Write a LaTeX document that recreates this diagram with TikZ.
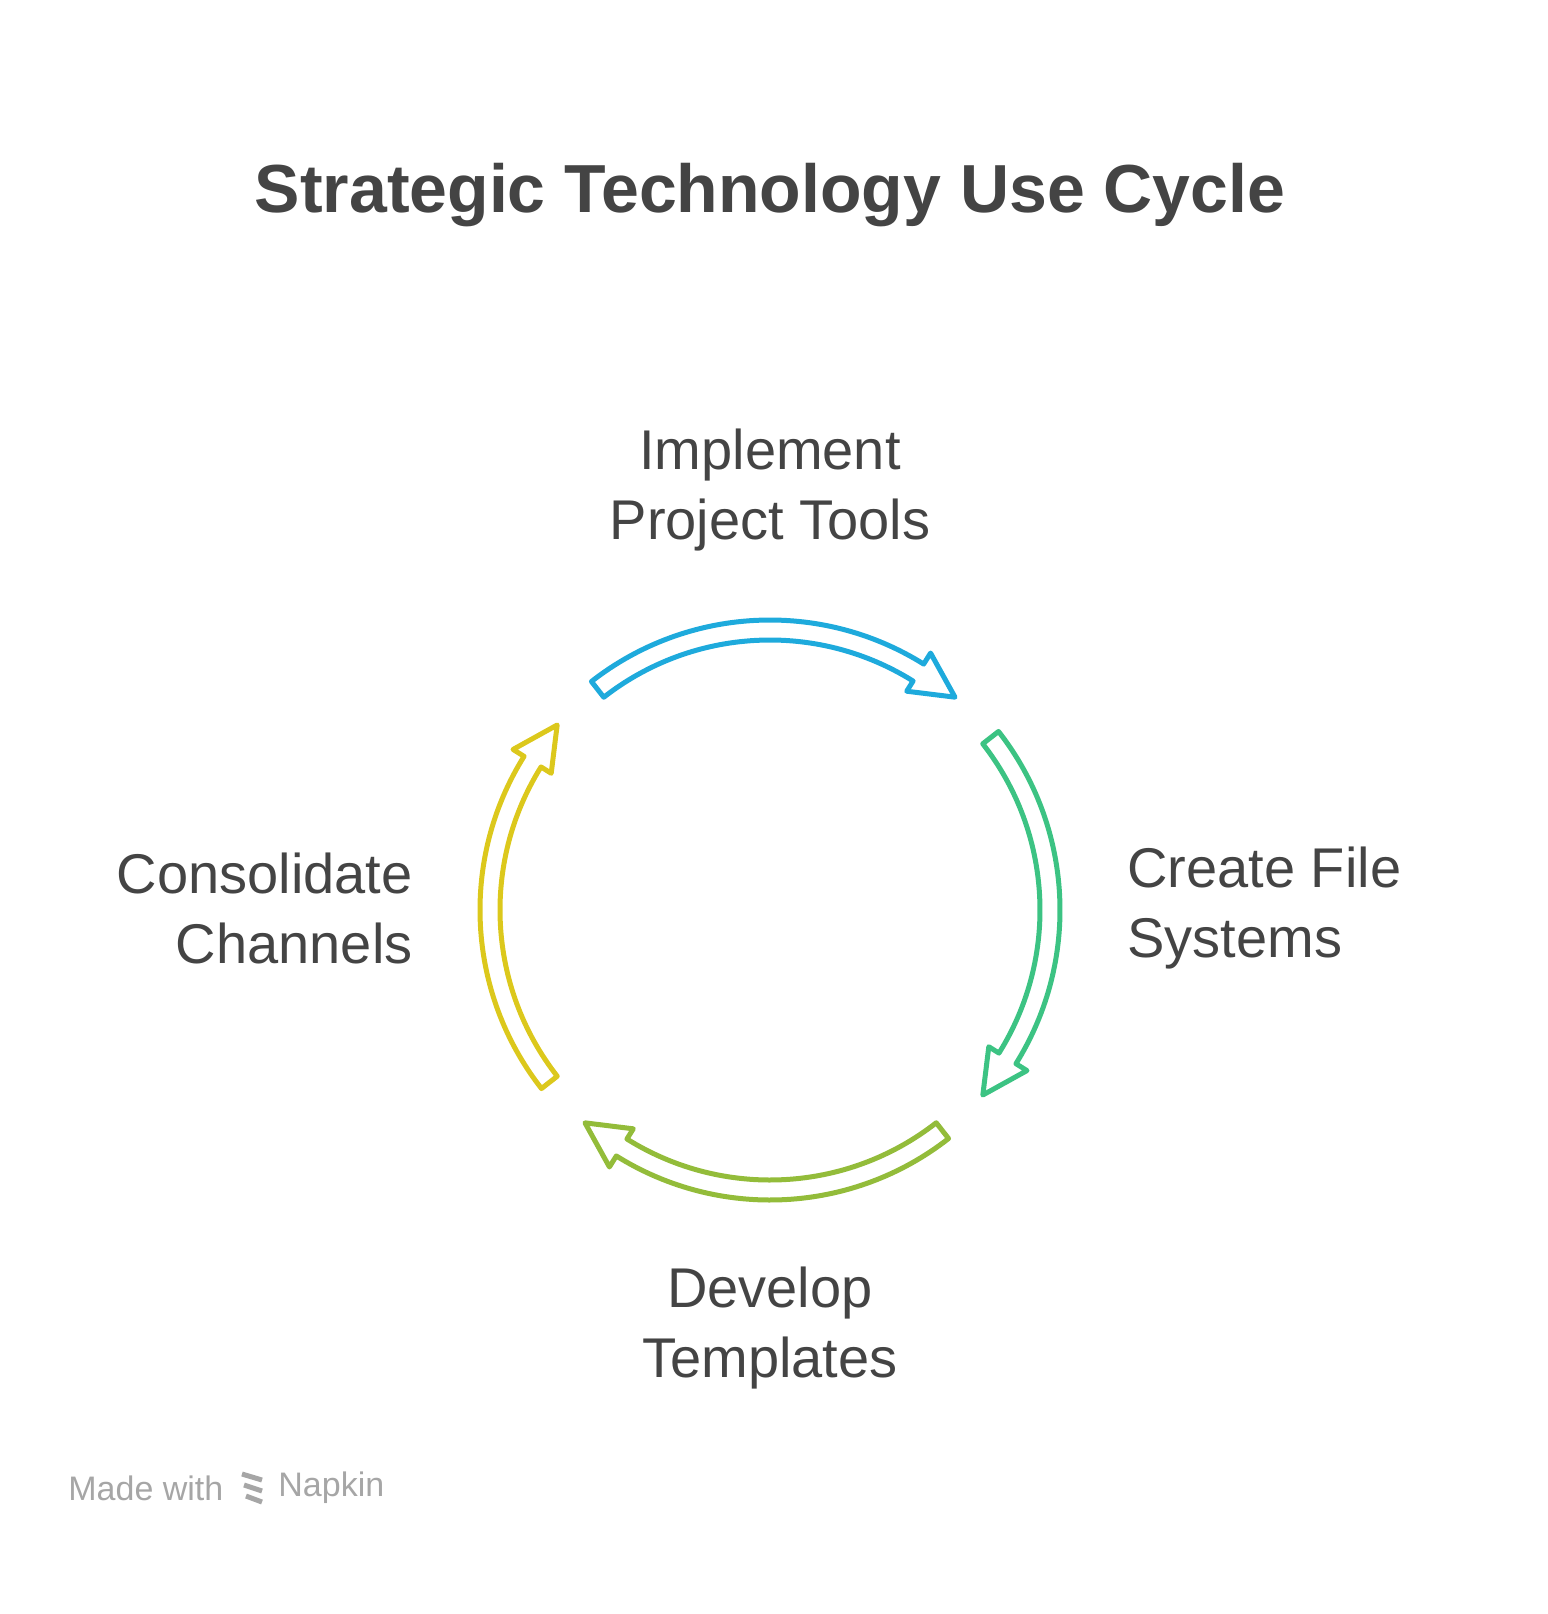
\documentclass[tikz,border=0pt]{standalone}
\usepackage{fontspec}
\setmainfont{Liberation Sans}
\usepackage{tikz}

\definecolor{txtgray}{HTML}{444444}
\definecolor{cycblue}{HTML}{1EAADC}
\definecolor{cycgreen}{HTML}{3CC383}
\definecolor{cyclime}{HTML}{93BC3A}
\definecolor{cycyellow}{HTML}{DCC81C}

\begin{document}
\begin{tikzpicture}[x=0.5pt, y=-0.5pt,
  label/.style={text=txtgray, font=\fontsize{28}{35}\selectfont, inner sep=0pt}]

% fix the page size
\useasboundingbox (0,0) rectangle (1548,1614);

% draw title
\node[text=txtgray, font=\fontsize{34}{40}\selectfont\bfseries] (title) at (770,195) {Strategic Technology Use Cycle};

% draw the four hollow arrows
\begin{scope}[shift={(770,910)}, yscale=-1, line width=2.5pt, line join=round]
  \foreach \o/\c in {0/cycblue, -90/cycgreen, -180/cyclime, -270/cycyellow} {
    \draw[color=\c] (\o+128 : 290) arc [radius = 290, start angle = \o+128, end angle = \o+58]
                    -- (\o+58 : 303) -- (\o+49 : 282) -- (\o+58 : 258)
                    -- (\o+58 : 270) arc [radius = 270, start angle = \o+58, end angle = \o+128]
                    -- cycle;
  }
\end{scope}

% draw labels
\node[label, align=center] (implement) at (770,490) {Implement\\Project Tools};
\node[label, align=left, anchor=west] (create) at (1127,908) {Create File\\Systems};
\node[label, align=center] (develop) at (770,1328) {Develop\\Templates};
\node[label, align=right, anchor=east] (consolidate) at (413,908) {Consolidate\\Channels};

% draw footer
\node[text=black!35, font=\fontsize{17}{18}\selectfont, anchor=west, inner sep=0pt] (made) at (68,1488) {Made with};
\foreach \i in {0,1,2} {
  \draw[black!35, line width=2.5pt] (242+2*\i,1474+11*\i) -- (262,1480+11*\i);
}
\node[text=black!35, font=\fontsize{17}{18}\selectfont, anchor=west, inner sep=0pt] (napkin) at (278,1488) {Napkin};

\end{tikzpicture}
\end{document}
